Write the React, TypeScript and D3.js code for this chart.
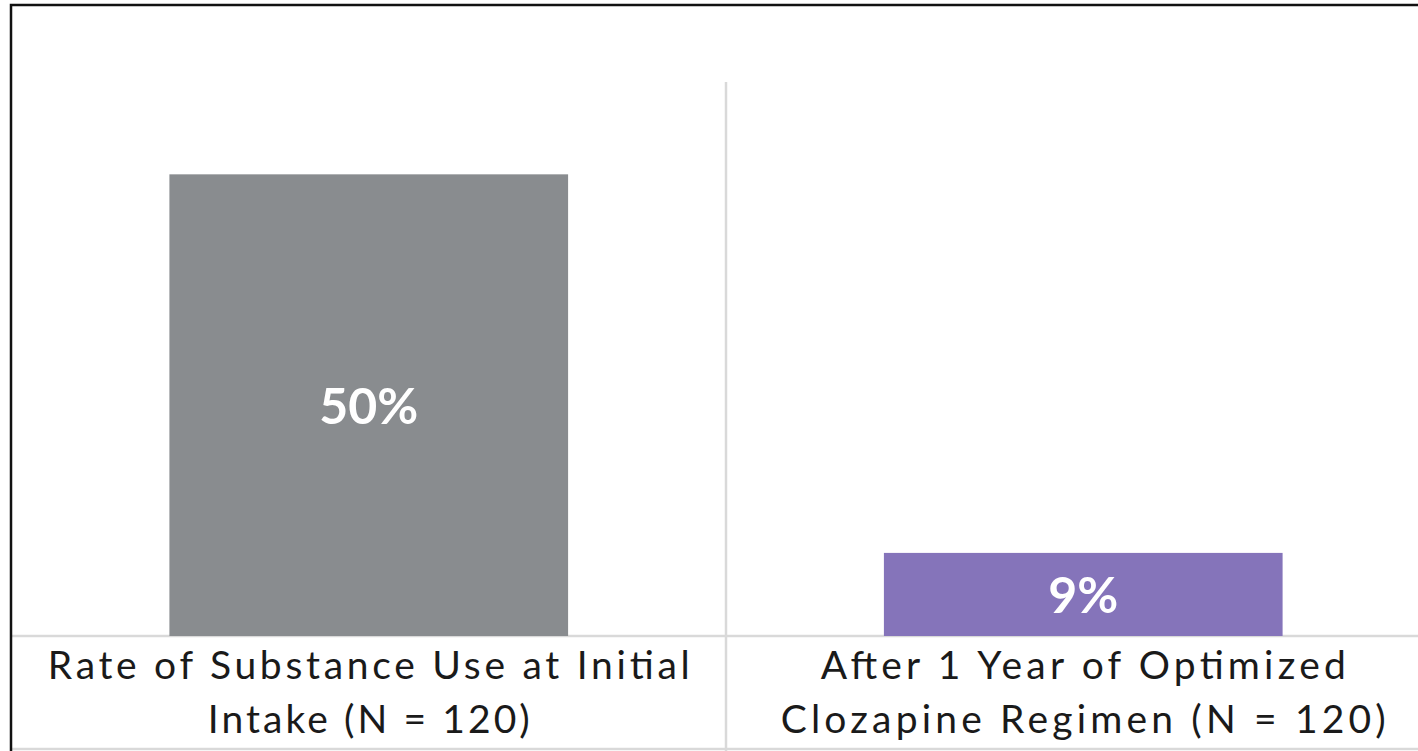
import React from "react";
import * as d3 from "d3";

const categories = ["Rate of Substance Use at Initial Intake (N = 120)", "After 1 Year of Optimized Clozapine Regimen (N = 120)"];
const labelLines = [
  ["Rate of Substance Use at Initial", "Intake (N = 120)"],
  ["After 1 Year of Optimized", "Clozapine Regimen (N = 120)"],
];
const values = [50, 9];
const valueLabels = ["50%", "9%"];
const barColors = ["#898c8f", "#8574ba"];
const yDomain = [0, 60];

const W = 1418;
const H = 751;

export default function App() {
  const x = d3.scaleBand<string>().domain(categories).range([11.5, 1440.5]).padding(0);
  const y = d3.scaleLinear().domain(yDomain).range([636, 82]);
  const barFrac = 0.558;
  const bw = x.bandwidth() * barFrac;
  const gridColor = "#d9d9d9";
  const font = "'Lato', 'Open Sans', sans-serif";
  const lineWidths = [[642, 322], [525, 605]];

  return (
    <svg width={W} height={H} style={{ position: "absolute", left: 0, top: 0, background: "#fff" }}>
      {/* vertical gridlines at category boundaries */}
      {categories.slice(1).map((c) => (
        <line key={c} x1={x(c)!} x2={x(c)!} y1={y(yDomain[1])} y2={H} stroke={gridColor} strokeWidth={2.5} />
      ))}
      {/* horizontal axis line and label box bottom */}
      <line x1={11} x2={W} y1={y(0)} y2={y(0)} stroke={gridColor} strokeWidth={2.5} />
      <line x1={11} x2={W} y1={749} y2={749} stroke={gridColor} strokeWidth={2.5} />
      {/* bars */}
      {categories.map((c, i) => {
        const cx = x(c)! + x.bandwidth() / 2;
        return (
          <g key={c}>
            <rect x={cx - bw / 2} y={y(values[i])} width={bw} height={y(0) - y(values[i])} fill={barColors[i]} />
            <text
              x={cx}
              y={(y(values[i]) + y(0)) / 2}
              textAnchor="middle"
              dominantBaseline="central"
              fill="#fff"
              fontFamily={font}
              fontWeight={700}
              fontSize={50}
            >
              {valueLabels[i]}
            </text>
            {labelLines[i].map((ln, j) => (
              <text
                key={j}
                x={cx}
                y={679 + j * 54}
                textAnchor="middle"
                fill="#1a1a1a"
                fontFamily={font}
                fontSize={39}
                textLength={lineWidths[i][j]}
                lengthAdjust="spacing"
              >
                {ln}
              </text>
            ))}
          </g>
        );
      })}
      {/* chart frame */}
      <rect x={11} y={5} width={W + 20} height={H + 20} fill="none" stroke="#111" strokeWidth={2.5} />
    </svg>
  );
}
